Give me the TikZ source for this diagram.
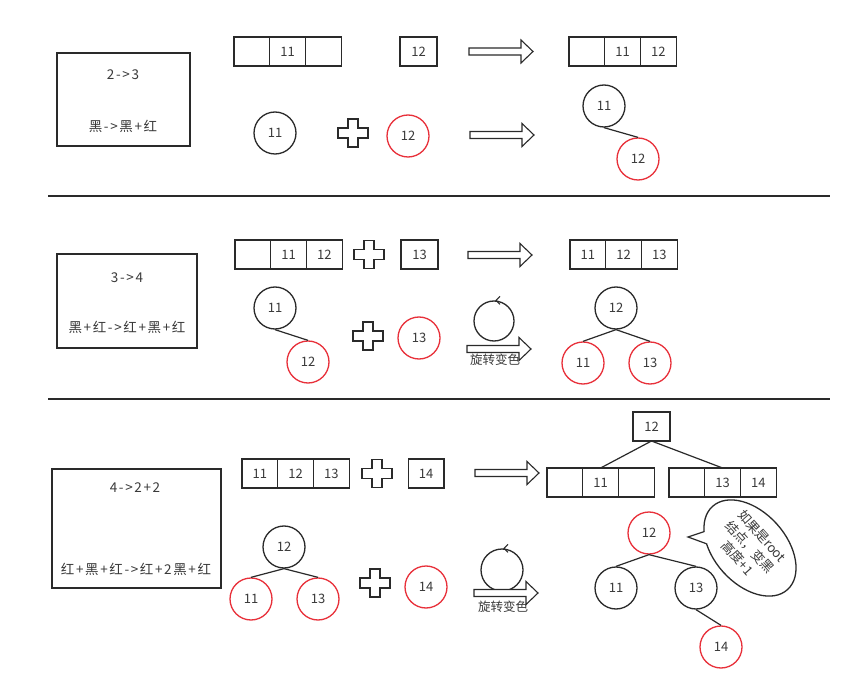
\documentclass[tikz,border=0pt]{standalone}
\usepackage{fontspec}
\setmainfont{Noto Sans CJK SC}
\usetikzlibrary{shapes.geometric}
\definecolor{ln}{HTML}{2A2A2A}
\definecolor{txt}{HTML}{3A3A3A}
\definecolor{rd}{HTML}{E8303A}
\begin{document}
\begin{tikzpicture}[x=1pt,y=-1pt,line width=1.3pt,
  every node/.style={text=txt, font=\fontsize{13}{15}\selectfont},
  boxtext/.style={font=\fontsize{13.5}{16}\selectfont\addfontfeature{LetterSpace=12}},
  cell/.style={draw=ln, rectangle, minimum width=35.7pt, minimum height=29pt, inner sep=0pt, outer sep=0pt},
  bnode/.style={draw=ln, circle, minimum size=42pt, inner sep=0pt},
  rnode/.style={draw=rd, circle, minimum size=42pt, inner sep=0pt},
  lbox/.style={draw=ln, rectangle, inner sep=0pt},
  rot/.style={draw=ln, circle, minimum size=40pt, inner sep=0pt},
  link/.style={draw=ln, line width=1.2pt},
  sep/.style={draw=ln, line width=1.5pt},
  harrow/.pic={\draw[ln, line width=1.1pt, fill=white] (0,3.5) -- (52,3.5) -- (52,11.5) -- (64,0) -- (52,-11.5) -- (52,-3.5) -- (0,-3.5) -- cycle;},
  plussign/.pic={\draw[ln, line width=1.3pt, fill=white] (-5,-14) -- (5,-14) -- (5,-5) -- (15,-5) -- (15,5) -- (5,5) -- (5,14) -- (-5,14) -- (-5,5) -- (-15,5) -- (-15,-5) -- (-5,-5) -- cycle;}
]
\useasboundingbox[fill=white] (0,0) rectangle (857,676);

% ---------- section 1 ----------
\node[lbox, minimum width=133pt, minimum height=93pt] (box1) at (123.5,99.5) {};
\node[boxtext] (box1a) at (123,75) {2->3};
\node[boxtext] (box1b) at (123,126) {黑->黑+红};

\node[cell] (s1a1) at (251.9,51.5) {};
\node[cell] (s1a2) at (287.6,51.5) {11};
\node[cell] (s1a3) at (323.3,51.5) {};
\node[cell, minimum width=37pt] (s1b) at (418.5,51.5) {12};
\pic at (469,51.5) {harrow};
\node[cell] (s1r1) at (586.9,51.5) {};
\node[cell] (s1r2) at (622.6,51.5) {11};
\node[cell] (s1r3) at (658.3,51.5) {12};

\node[bnode] (s1c11) at (275,133) {11};
\pic at (353,133) {plussign};
\node[rnode] (s1c12) at (408,136) {12};
\pic at (470,135) {harrow};
\node[bnode] (s1t11) at (604,106) {11};
\node[rnode] (s1t12) at (638,159) {12};
\draw[link] (s1t11.south) -- (s1t12.north);

\draw[sep] (48,196) -- (830,196);

% ---------- section 2 ----------
\node[lbox, minimum width=140pt, minimum height=94pt] (box2) at (127,301) {};
\node[boxtext] (box2a) at (127,278) {3->4};
\node[boxtext] (box2b) at (127,327) {黑+红->红+黑+红};

\node[cell] (s2a1) at (252.9,254.5) {};
\node[cell] (s2a2) at (288.6,254.5) {11};
\node[cell] (s2a3) at (324.3,254.5) {12};
\pic at (369,254.5) {plussign};
\node[cell, minimum width=37pt] (s2b) at (419.5,254.5) {13};
\pic at (468,255) {harrow};
\node[cell] (s2r1) at (587.9,254.5) {11};
\node[cell] (s2r2) at (623.6,254.5) {12};
\node[cell] (s2r3) at (659.3,254.5) {13};

\node[bnode] (s2c11) at (275,308) {11};
\node[rnode] (s2c12) at (308,362) {12};
\draw[link] (s2c11.south) -- (s2c12.north);
\pic at (368,336) {plussign};
\node[rnode] (s2c13) at (419,338) {13};

\node[rot] (rot1) at (494,321) {};
\draw[ln, line width=1.1pt] ([xshift=6pt,yshift=4pt]rot1.north) -- ([xshift=2pt]rot1.north) -- ([xshift=6pt,yshift=-4pt]rot1.north);
\pic at (467,349) {harrow};
\node[font=\fontsize{12.5}{14}\selectfont] (rot1t) at (495,360) {旋转变色};

\node[bnode] (s2t12) at (616,308) {12};
\node[rnode] (s2t11) at (583,363) {11};
\node[rnode] (s2t13) at (650,363) {13};
\draw[link] (s2t11.north) -- (s2t12.south) -- (s2t13.north);

\draw[sep] (48,399) -- (830,399);

% ---------- section 3 ----------
\node[lbox, minimum width=169pt, minimum height=119pt] (box3) at (136.5,528.5) {};
\node[boxtext] (box3a) at (135,488) {4->2+2};
\node[boxtext] (box3b) at (136,569) {红+黑+红->红+2黑+红};

\node[cell] (s3a1) at (259.9,473.5) {11};
\node[cell] (s3a2) at (295.6,473.5) {12};
\node[cell] (s3a3) at (331.3,473.5) {13};
\pic at (377,473.5) {plussign};
\node[cell] (s3b) at (426,473.5) {14};
\pic at (475,473) {harrow};

\node[cell, minimum width=37pt] (s3top) at (651.5,426.5) {12};
\node[cell] (s3l1) at (564.9,482.5) {};
\node[cell] (s3l2) at (600.6,482.5) {11};
\node[cell] (s3l3) at (636.3,482.5) {};
\node[cell] (s3m1) at (686.9,482.5) {};
\node[cell] (s3m2) at (722.6,482.5) {13};
\node[cell] (s3m3) at (758.3,482.5) {14};
\draw[link] (s3l2.north) -- (s3top.south) -- (s3m2.north);

\node[bnode] (s3c12) at (284,547) {12};
\node[rnode] (s3c11) at (251,599) {11};
\node[rnode] (s3c13) at (318,599) {13};
\draw[link] (s3c11.north) -- (s3c12.south) -- (s3c13.north);
\pic at (375,583) {plussign};
\node[rnode] (s3c14) at (426,587) {14};

\node[rot, minimum size=42pt] (rot2) at (502,570) {};
\draw[ln, line width=1.1pt] ([xshift=6pt,yshift=4pt]rot2.north) -- ([xshift=2pt]rot2.north) -- ([xshift=6pt,yshift=-4pt]rot2.north);
\pic at (474,593) {harrow};
\node[font=\fontsize{12.5}{14}\selectfont] (rot2t) at (503,607) {旋转变色};

\node[rnode] (s3t12) at (649,533) {12};
\node[bnode] (s3t11) at (616,588) {11};
\node[bnode] (s3t13) at (696,588) {13};
\node[rnode] (s3t14) at (721,647) {14};
\draw[link] (s3t11.north) -- (s3t12.south) -- (s3t13.north);
\draw[link] (s3t13.south) -- (s3t14.north);

% speech bubble
\node[draw=ln, ellipse, minimum width=112pt, minimum height=72pt, inner sep=0pt, rotate=-48] (bub) at (750,548) {};
\coordinate (tailA) at (704.1,531.6);
\coordinate (tailB) at (706.6,543.8);
\coordinate (tailT) at (688,537);
\fill[white] (tailA) -- (tailT) -- (tailB) -- (711,538) -- cycle;
\draw[ln, line width=1.2pt, line join=miter] (tailA) -- (tailT) -- (tailB);
\node[rotate=-48, align=center, font=\fontsize{13}{16.5}\selectfont] (bubt) at (750,547) {如果是root\\结点，变黑\\高度+1};
\end{tikzpicture}
\end{document}
